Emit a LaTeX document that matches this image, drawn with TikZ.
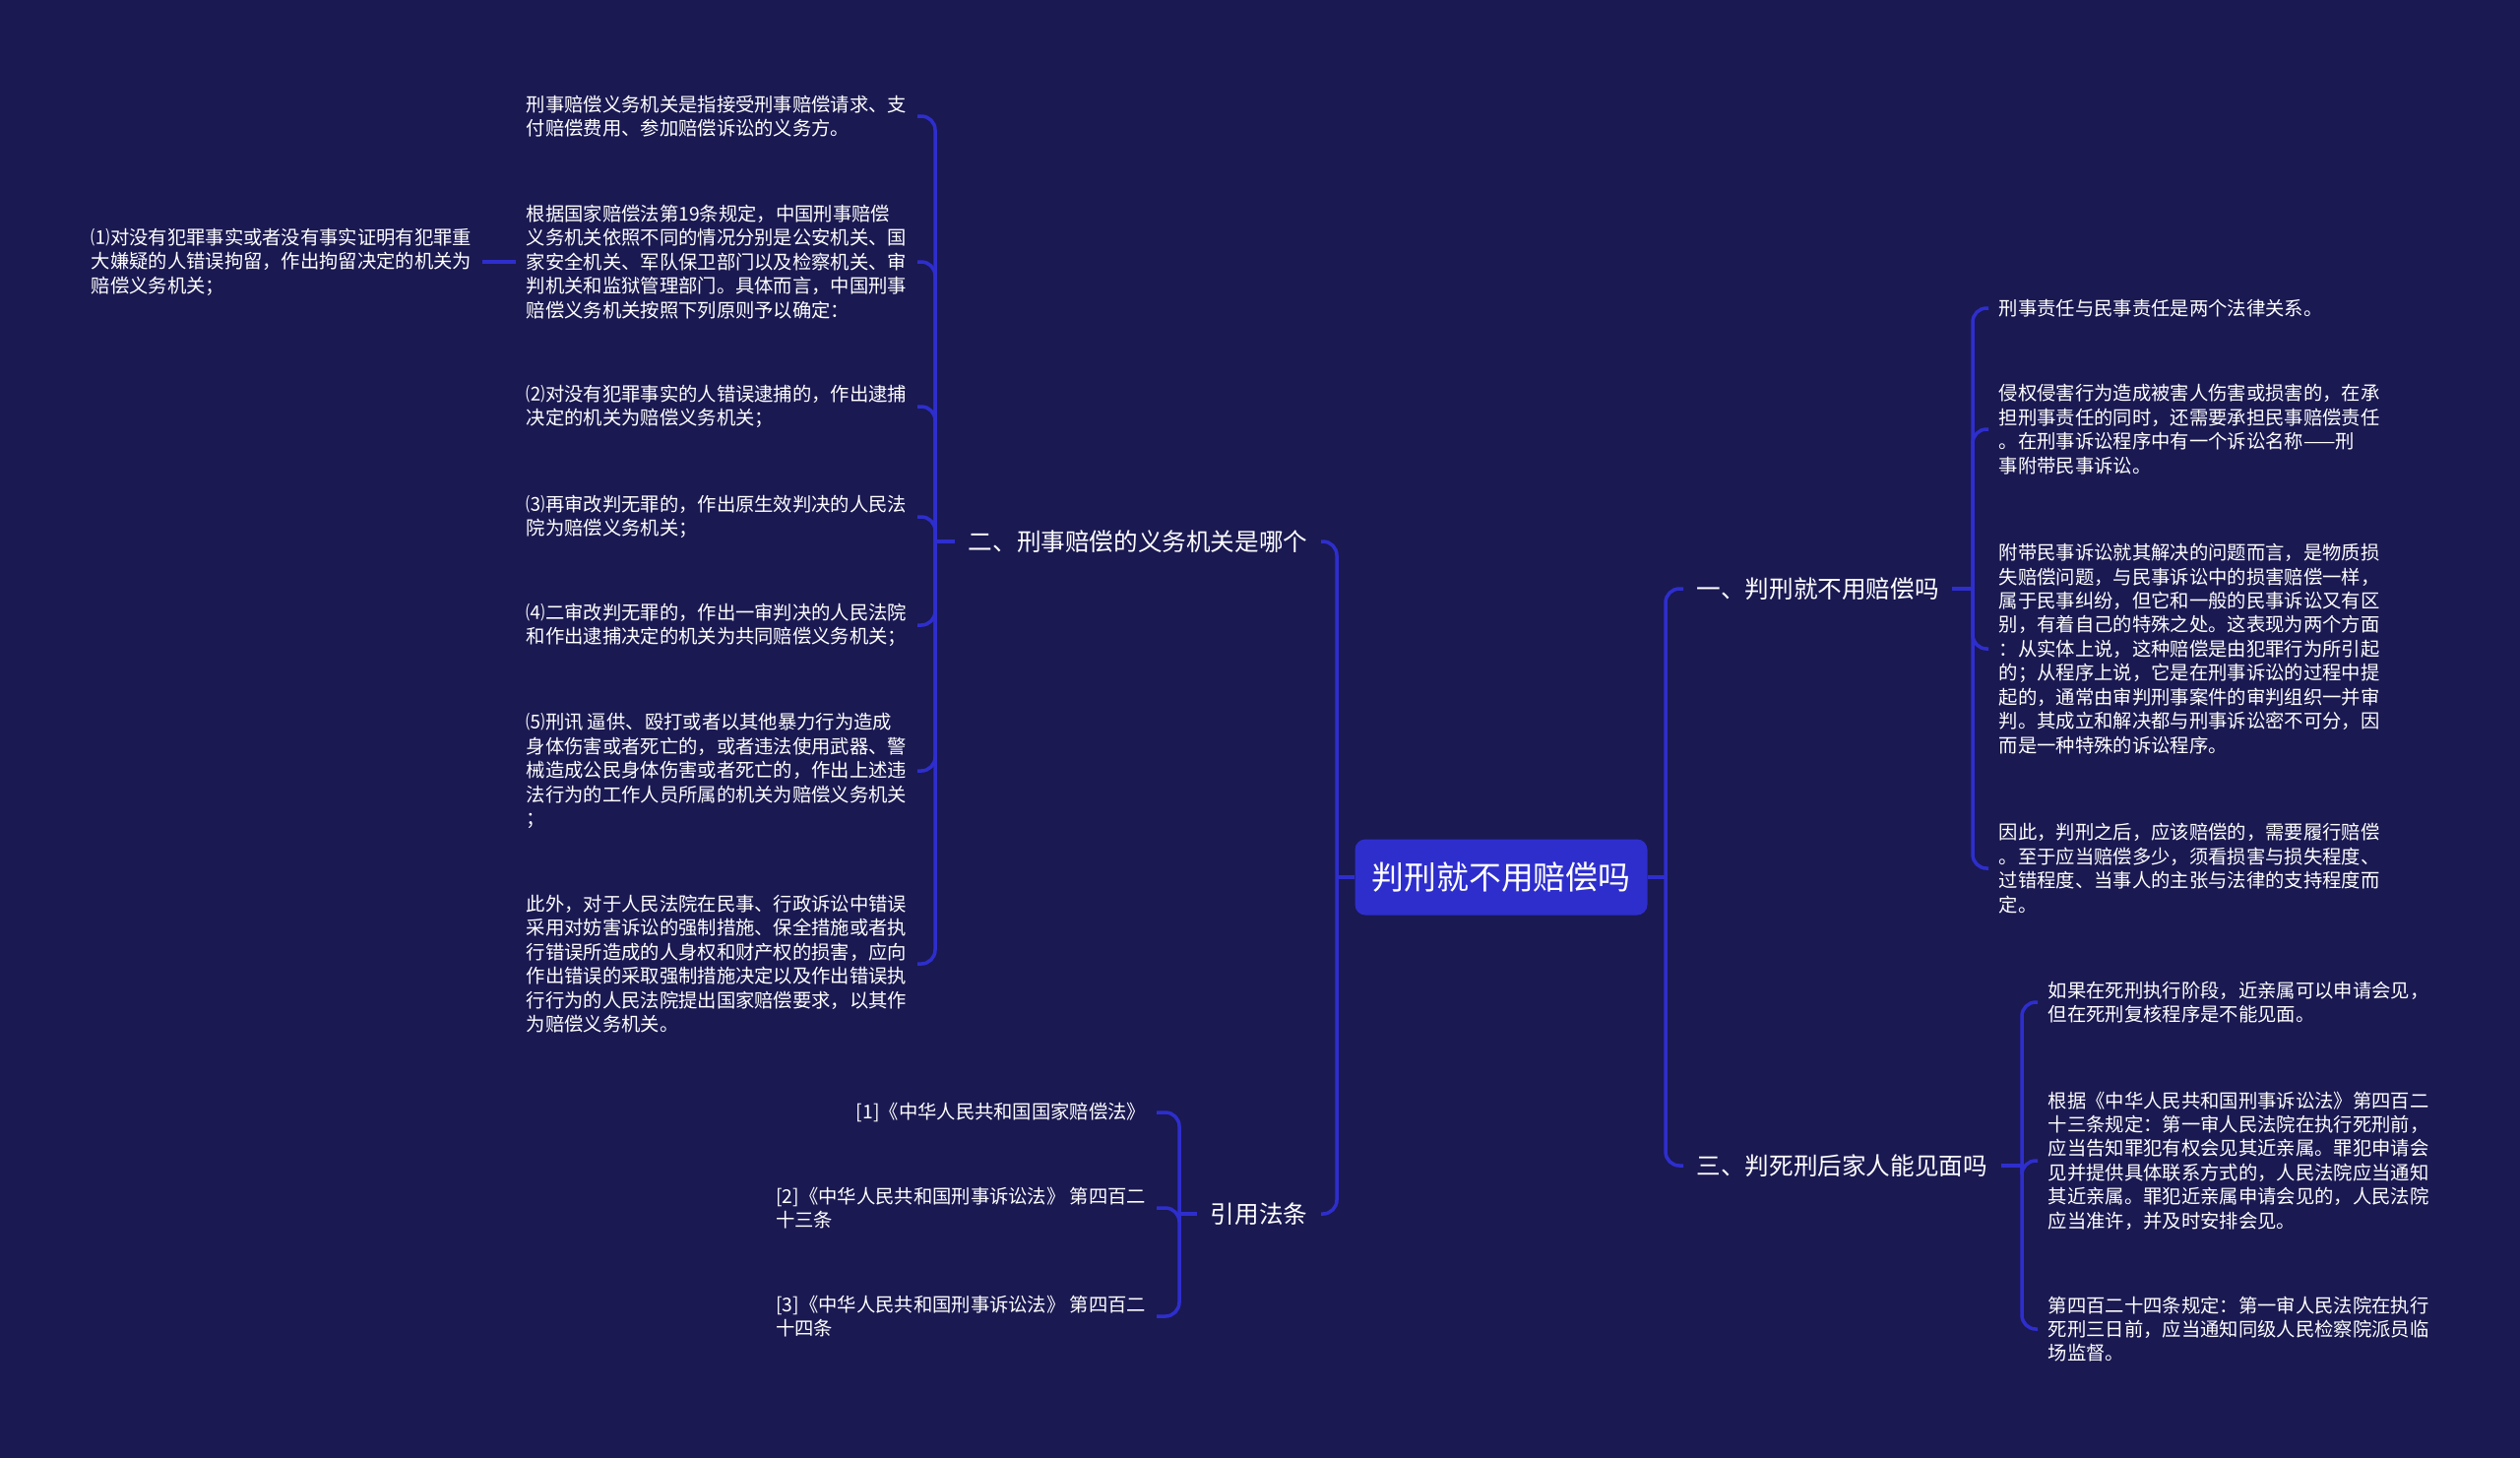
\documentclass[tikz,border=0pt]{standalone}
\usepackage{fontspec}
\newfontfamily\cjk{Noto Sans CJK SC}
\definecolor{night}{RGB}{26,25,82}
\definecolor{cobalt}{RGB}{46,46,205}

\begin{document}
\begin{tikzpicture}[
    leaf/.style={text=white,font=\cjk\fontsize{5.5}{6.95}\selectfont,align=left,inner xsep=0.1cm,inner ysep=0pt},
    branch/.style={text=white,font=\cjk\fontsize{7}{8.4}\selectfont,inner xsep=0.13cm,inner ysep=0pt},
    link/.style={cobalt,line width=1pt,rounded corners=4pt}]
        \useasboundingbox (0,0) rectangle (25.6,-14.8);
        \fill[night] (-0.1,0.1) rectangle (25.7,-14.9);
        \node[fill=cobalt,rounded corners=3pt,minimum width=2.97cm,minimum height=0.77cm,text=white,font=\cjk\fontsize{9.35}{11}\selectfont] (r) at (15.25,-8.91) {判刑就不用赔偿吗};
        \node[branch,anchor=west] (a1) at (17.10,-5.98) {一、判刑就不用赔偿吗};
        \node[branch,anchor=east] (a2) at (13.42,-5.50) {二、刑事赔偿的义务机关是哪个};
        \node[branch,anchor=west] (a3) at (17.10,-11.84) {三、判死刑后家人能见面吗};
        \node[branch,anchor=east] (a4) at (13.42,-12.33) {引用法条};
        \node[leaf,anchor=east] (l1) at (9.32,-1.18) {刑事赔偿义务机关是指接受刑事赔偿请求、支\\付赔偿费用、参加赔偿诉讼的义务方。};
        \node[leaf,anchor=east] (l2) at (9.32,-2.66) {根据国家赔偿法第19条规定，中国刑事赔偿\\义务机关依照不同的情况分别是公安机关、国\\家安全机关、军队保卫部门以及检察机关、审\\判机关和监狱管理部门。具体而言，中国刑事\\赔偿义务机关按照下列原则予以确定：};
        \node[leaf,anchor=east] (l3) at (9.32,-4.13) {⑵对没有犯罪事实的人错误逮捕的，作出逮捕\\决定的机关为赔偿义务机关；};
        \node[leaf,anchor=east] (l4) at (9.32,-5.25) {⑶再审改判无罪的，作出原生效判决的人民法\\院为赔偿义务机关；};
        \node[leaf,anchor=east] (l5) at (9.32,-6.35) {⑷二审改判无罪的，作出一审判决的人民法院\\和作出逮捕决定的机关为共同赔偿义务机关；};
        \node[leaf,anchor=east] (l6) at (9.32,-7.83) {⑸刑讯 逼供、殴打或者以其他暴力行为造成\\身体伤害或者死亡的，或者违法使用武器、警\\械造成公民身体伤害或者死亡的，作出上述违\\法行为的工作人员所属的机关为赔偿义务机关\\；};
        \node[leaf,anchor=east] (l7) at (9.32,-9.79) {此外，对于人民法院在民事、行政诉讼中错误\\采用对妨害诉讼的强制措施、保全措施或者执\\行错误所造成的人身权和财产权的损害，应向\\作出错误的采取强制措施决定以及作出错误执\\行行为的人民法院提出国家赔偿要求，以其作\\为赔偿义务机关。};
        \node[leaf,anchor=east] (m1) at (4.90,-2.66) {⑴对没有犯罪事实或者没有事实证明有犯罪重\\大嫌疑的人错误拘留，作出拘留决定的机关为\\赔偿义务机关；};
        \node[leaf,anchor=west] (p1) at (20.20,-3.13) {刑事责任与民事责任是两个法律关系。};
        \node[leaf,anchor=west] (p2) at (20.20,-4.36) {侵权侵害行为造成被害人伤害或损害的，在承\\担刑事责任的同时，还需要承担民事赔偿责任\\。在刑事诉讼程序中有一个诉讼名称——刑\\事附带民事诉讼。};
        \node[leaf,anchor=west] (p3) at (20.20,-6.59) {附带民事诉讼就其解决的问题而言，是物质损\\失赔偿问题，与民事诉讼中的损害赔偿一样，\\属于民事纠纷，但它和一般的民事诉讼又有区\\别，有着自己的特殊之处。这表现为两个方面\\：从实体上说，这种赔偿是由犯罪行为所引起\\的；从程序上说，它是在刑事诉讼的过程中提\\起的，通常由审判刑事案件的审判组织一并审\\判。其成立和解决都与刑事诉讼密不可分，因\\而是一种特殊的诉讼程序。};
        \node[leaf,anchor=west] (p4) at (20.20,-8.82) {因此，判刑之后，应该赔偿的，需要履行赔偿\\。至于应当赔偿多少，须看损害与损失程度、\\过错程度、当事人的主张与法律的支持程度而\\定。};
        \node[leaf,anchor=west] (q1) at (20.70,-10.18) {如果在死刑执行阶段，近亲属可以申请会见，\\但在死刑复核程序是不能见面。};
        \node[leaf,anchor=west] (q2) at (20.70,-11.79) {根据《中华人民共和国刑事诉讼法》第四百二\\十三条规定：第一审人民法院在执行死刑前，\\应当告知罪犯有权会见其近亲属。罪犯申请会\\见并提供具体联系方式的，人民法院应当通知\\其近亲属。罪犯近亲属申请会见的，人民法院\\应当准许，并及时安排会见。};
        \node[leaf,anchor=west] (q3) at (20.70,-13.50) {第四百二十四条规定：第一审人民法院在执行\\死刑三日前，应当通知同级人民检察院派员临\\场监督。};
        \node[leaf,anchor=east] (c1) at (11.75,-11.30) {[1]《中华人民共和国国家赔偿法》};
        \node[leaf,anchor=east] (c2) at (11.75,-12.27) {[2]《中华人民共和国刑事诉讼法》 第四百二\\十三条};
        \node[leaf,anchor=east] (c3) at (11.75,-13.37) {[3]《中华人民共和国刑事诉讼法》 第四百二\\十四条};
        \coordinate (k0) at (13.58,-8.91);
        \coordinate (k1) at (16.92,-8.91);
        \coordinate (k2) at (9.50,-5.50);
        \coordinate (k3) at (20.04,-5.98);
        \coordinate (k4) at (20.54,-11.84);
        \coordinate (k5) at (11.98,-12.33);
        \draw[link] (r.west) -- (k0);
        \draw[link] (r.east) -- (k1);
        \foreach \c in {a2,a4} \draw[link] (k0) |- (\c.east);
        \foreach \c in {a1,a3} \draw[link] (k1) |- (\c.west);
        \draw[link] (a2.west) -- (k2);
        \foreach \i in {1,...,7} \draw[link] (k2) |- (l\i.east);
        \draw[link] (l2.west) -- (m1.east);
        \draw[link] (a1.east) -- (k3);
        \foreach \i in {1,...,4} \draw[link] (k3) |- (p\i.west);
        \draw[link] (a3.east) -- (k4);
        \foreach \i in {1,...,3} \draw[link] (k4) |- (q\i.west);
        \draw[link] (a4.west) -- (k5);
        \foreach \i in {1,...,3} \draw[link] (k5) |- (c\i.east);
      \end{tikzpicture}
\end{document}
